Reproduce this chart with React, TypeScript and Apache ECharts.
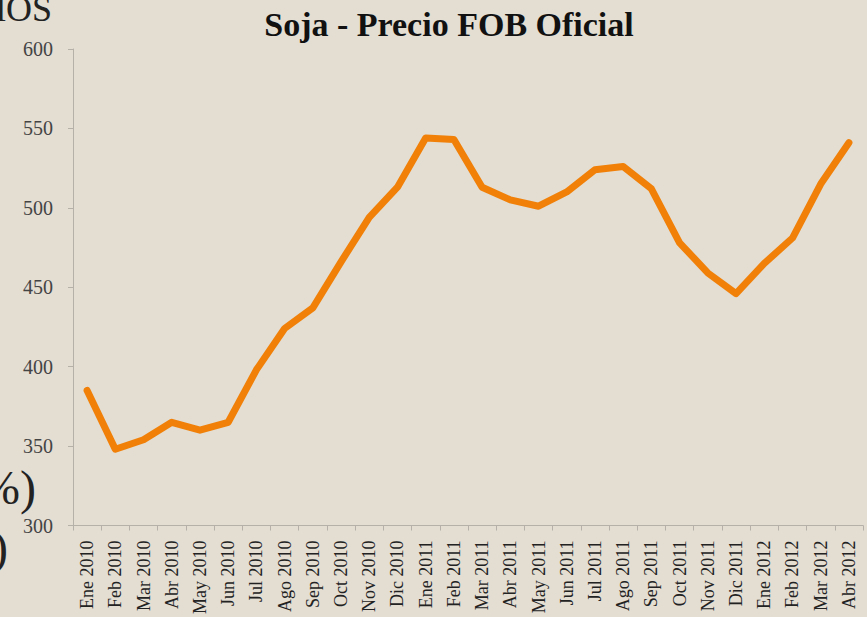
import React, { useEffect, useRef } from "react";
import * as echarts from "echarts";

const categories = [
  "Ene 2010", "Feb 2010", "Mar 2010", "Abr 2010", "May 2010", "Jun 2010",
  "Jul 2010", "Ago 2010", "Sep 2010", "Oct 2010", "Nov 2010", "Dic 2010",
  "Ene 2011", "Feb 2011", "Mar 2011", "Abr 2011", "May 2011", "Jun 2011",
  "Jul 2011", "Ago 2011", "Sep 2011", "Oct 2011", "Nov 2011", "Dic 2011",
  "Ene 2012", "Feb 2012", "Mar 2012", "Abr 2012",
];

const fobPrice = [
  385, 348, 354, 365, 360, 365,
  398, 424, 437, 466, 494, 513,
  544, 543, 513, 505, 501, 510,
  524, 526, 512, 478, 459, 446,
  465, 481, 515, 541,
];

const yTicks = { min: 300, max: 600, interval: 50 };

const titleText = "Soja - Precio FOB Oficial";

export default function App() {
  const ref = useRef<HTMLDivElement>(null);

  useEffect(() => {
    if (!ref.current) return;
    const chart = echarts.init(ref.current, null, { renderer: "svg" });
    const serif = "'Liberation Serif', 'DejaVu Serif', serif";
    chart.setOption({
      animation: false,
      backgroundColor: "#E3DDD2",
      title: {
        text: titleText,
        left: 444,
        textAlign: "center",
        top: 2,
        textStyle: {
          fontFamily: serif,
          fontWeight: "bold",
          fontSize: 34,
          color: "#111",
        },
      },
      graphic: [
        {
          type: "text",
          left: -4,
          top: -9,
          style: { text: "lOS", font: "36px 'Liberation Serif', serif", fill: "#222" },
        },
        {
          type: "text",
          left: -20,
          top: 463,
          style: { text: "%)", font: "48px 'Liberation Serif', serif", fill: "#222" },
        },
        {
          type: "text",
          left: -8,
          top: 523,
          style: { text: ")", font: "48px 'Liberation Serif', serif", fill: "#222" },
        },
      ],
      grid: { left: 73, right: 4, top: 49, bottom: 91, containLabel: false },
      xAxis: {
        type: "category",
        data: categories,
        boundaryGap: true,
        axisLine: { lineStyle: { color: "#B5B0A8", width: 1 } },
        axisTick: { show: true, length: 5, lineStyle: { color: "#B5B0A8" } },
        axisLabel: {
          rotate: 90,
          interval: 0,
          margin: 15,
          fontFamily: serif,
          fontSize: 18,
          color: "#222",
        },
        splitLine: { show: false },
      },
      yAxis: {
        type: "value",
        min: yTicks.min,
        max: yTicks.max,
        interval: yTicks.interval,
        axisLine: { show: true, lineStyle: { color: "#B5B0A8", width: 1 } },
        axisTick: { show: true, length: 5, lineStyle: { color: "#B5B0A8" } },
        axisLabel: {
          margin: 20,
          fontFamily: serif,
          fontSize: 20,
          color: "#444",
        },
        splitLine: { show: false },
      },
      series: [
        {
          type: "line",
          data: fobPrice,
          symbol: "none",
          lineStyle: { color: "#F08008", width: 7, cap: "round", join: "round" },
        },
      ],
    });
    return () => chart.dispose();
  }, []);

  return (
    <div
      ref={ref}
      style={{ position: "absolute", left: 0, top: 0, width: 867, height: 617 }}
    />
  );
}
